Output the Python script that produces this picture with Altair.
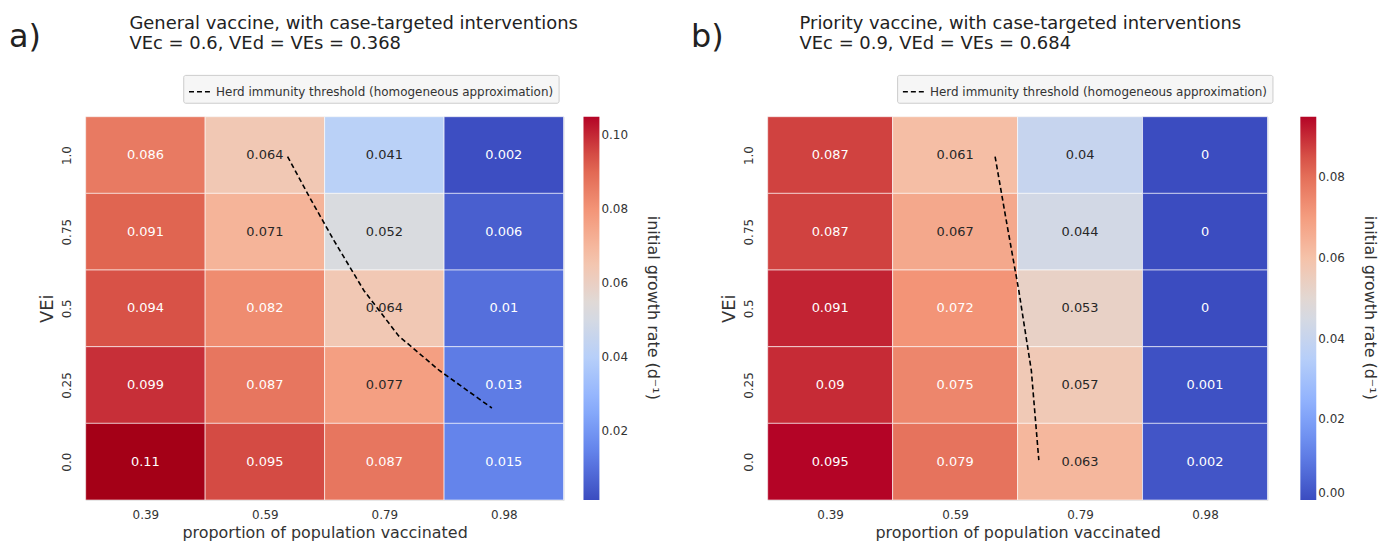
import altair as alt
import pandas as pd
import numpy as np

cols = ['0.39', '0.59', '0.79', '0.98']
rows = ['0.0', '0.25', '0.5', '0.75', '1.0']  # bottom to top

# values listed top row (VEi 1.0) first
left_vals = [
    [0.086, 0.064, 0.041, 0.002],
    [0.091, 0.071, 0.052, 0.006],
    [0.094, 0.082, 0.064, 0.01],
    [0.099, 0.087, 0.077, 0.013],
    [0.11, 0.095, 0.087, 0.015],
]
right_vals = [
    [0.087, 0.061, 0.04, 0],
    [0.087, 0.067, 0.044, 0],
    [0.091, 0.072, 0.053, 0],
    [0.09, 0.075, 0.057, 0.001],
    [0.095, 0.079, 0.063, 0.002],
]
left_dom = [0.0015, 0.105]
right_dom = [0.0, 0.095]

# herd immunity threshold, in cell units (x from left, y from bottom)
left_line_x = [1.69, 1.87, 2.08, 2.33, 2.62, 2.96, 3.40]
left_line_y = [4.48, 3.96, 3.38, 2.73, 2.14, 1.69, 1.20]
right_line_x = [1.82, 1.91, 2.01, 2.11, 2.17]
right_line_y = [4.48, 3.64, 2.73, 1.69, 0.52]

coolwarm = ["#3b4cc0", "#6282ea", "#8db0fe", "#b8d0f9", "#dddcdc", "#f5c4ac", "#f4987a", "#de604d", "#b40426"]


def panel(vals, dom, lx, ly, letter, title, w, dx, loff, lgx):
    recs = []
    for r, rowvals in enumerate(vals):
        for c, v in enumerate(rowvals):
            ri = 4 - r
            t = (v - dom[0]) / (dom[1] - dom[0])
            recs.append({'x': c, 'x2': c + 1, 'y': ri, 'y2': ri + 1, 'v': v,
                         'xc': c + 0.5, 'yc': ri + 0.5,
                         'tc': 'white' if (t > 0.75 or t < 0.3) else '#262626'})
    df = pd.DataFrame(recs)
    xs = alt.Scale(domain=[0, 4], nice=False, zero=False)
    ys = alt.Scale(domain=[0, 5], nice=False, zero=False)
    xax = alt.Axis(values=[0.5, 1.5, 2.5, 3.5], labelExpr="['0.39','0.59','0.79','0.98'][floor(datum.value)]",
                   ticks=False, domain=False, grid=False, labelFontSize=12, labelColor='#333',
                   title='proportion of population vaccinated', titleFontSize=16, titleFontWeight='normal',
                   titleColor='#333', labelPadding=10, titlePadding=4)
    yax = alt.Axis(values=[0.5, 1.5, 2.5, 3.5, 4.5], labelExpr="['0.0','0.25','0.5','0.75','1.0'][floor(datum.value)]",
                   ticks=False, domain=False, grid=False, labelFontSize=12, labelColor='#333', labelAngle=-90,
                   labelAlign='center', labelBaseline='bottom', labelPadding=12,
                   title='VEi', titleFontSize=18, titleFontWeight='normal', titleColor='#333')
    cscale = alt.Scale(domain=list(np.linspace(dom[0], dom[1], len(coolwarm))), range=coolwarm, interpolate='rgb')
    rect = alt.Chart(df).mark_rect(stroke='white', strokeWidth=0.6).encode(
        x=alt.X('x:Q', scale=xs, axis=xax), x2='x2:Q',
        y=alt.Y('y:Q', scale=ys, axis=yax), y2='y2:Q',
        color=alt.Color('v:Q', scale=cscale, legend=alt.Legend(
            title=None, gradientLength=385, gradientThickness=16, labelFontSize=12, labelColor='#333',
            format='.2f', tickCount=5, offset=loff, gradientStrokeWidth=0)),
    )
    txt = alt.Chart(df).mark_text(fontSize=13).encode(
        x=alt.X('xc:Q', scale=xs), y=alt.Y('yc:Q', scale=ys),
        text=alt.Text('v:Q', format='.2~g'), color=alt.Color('tc:N', scale=None),
    )
    ldf = pd.DataFrame({'x': lx, 'y': ly, 'k': 'Herd immunity threshold (homogeneous approximation)',
                        'o': range(len(lx))})
    line = alt.Chart(ldf).mark_line(strokeDash=[5, 3], strokeWidth=1.6, color='black').encode(
        x=alt.X('x:Q', scale=xs), y=alt.Y('y:Q', scale=ys), order='o:Q',
        strokeDash=alt.StrokeDash('k:N', scale=alt.Scale(range=[[5, 3]]), legend=alt.Legend(
            title=None, orient='none', legendX=lgx, legendY=-42, labelFontSize=12, labelColor='#333',
            symbolStrokeColor='black', symbolStrokeWidth=1.6, symbolSize=500, strokeColor='#ccc',
            fillColor='#f6f6f6', padding=5, cornerRadius=2, labelLimit=500)),
    )
    lab = alt.Chart(pd.DataFrame({'t': [letter]})).mark_text(
        fontSize=32, align='left', baseline='middle', color='#222').encode(
        text='t:N', x=alt.value(-77), y=alt.value(-80))
    ctitle = alt.Chart(pd.DataFrame({'t': ['initial growth rate (d⁻¹)']})).mark_text(
        fontSize=16, angle=90, align='center', baseline='middle', color='#333').encode(
        text='t:N', x=alt.value(w + loff + 70), y=alt.value(192))
    return alt.layer(rect, txt, line, lab, ctitle).resolve_scale(color='independent').properties(
        width=w, height=385,
        title=alt.TitleParams(title, anchor='start', fontSize=18, fontWeight='normal', color='#222',
                              dx=dx, offset=-32, font='DejaVu Sans'))


a = panel(left_vals, left_dom, left_line_x, left_line_y, 'a)',
          ['General vaccine, with case-targeted interventions', 'VEc = 0.6, VEd = VEs = 0.368'],
          480, 121, 20, 98)
b = panel(right_vals, right_dom, right_line_x, right_line_y, 'b)',
          ['Priority vaccine, with case-targeted interventions', 'VEc = 0.9, VEd = VEs = 0.684'],
          502, 109, 33, 130)

chart = alt.hconcat(a, b, spacing=28).resolve_scale(color='independent', strokeDash='independent').configure_view(
    stroke=None).configure(font='DejaVu Sans').properties(padding={'left': 0, 'top': 5, 'right': 0, 'bottom': 0})
chart.save("out.html", embed_options={"renderer": "svg", "actions": False})
